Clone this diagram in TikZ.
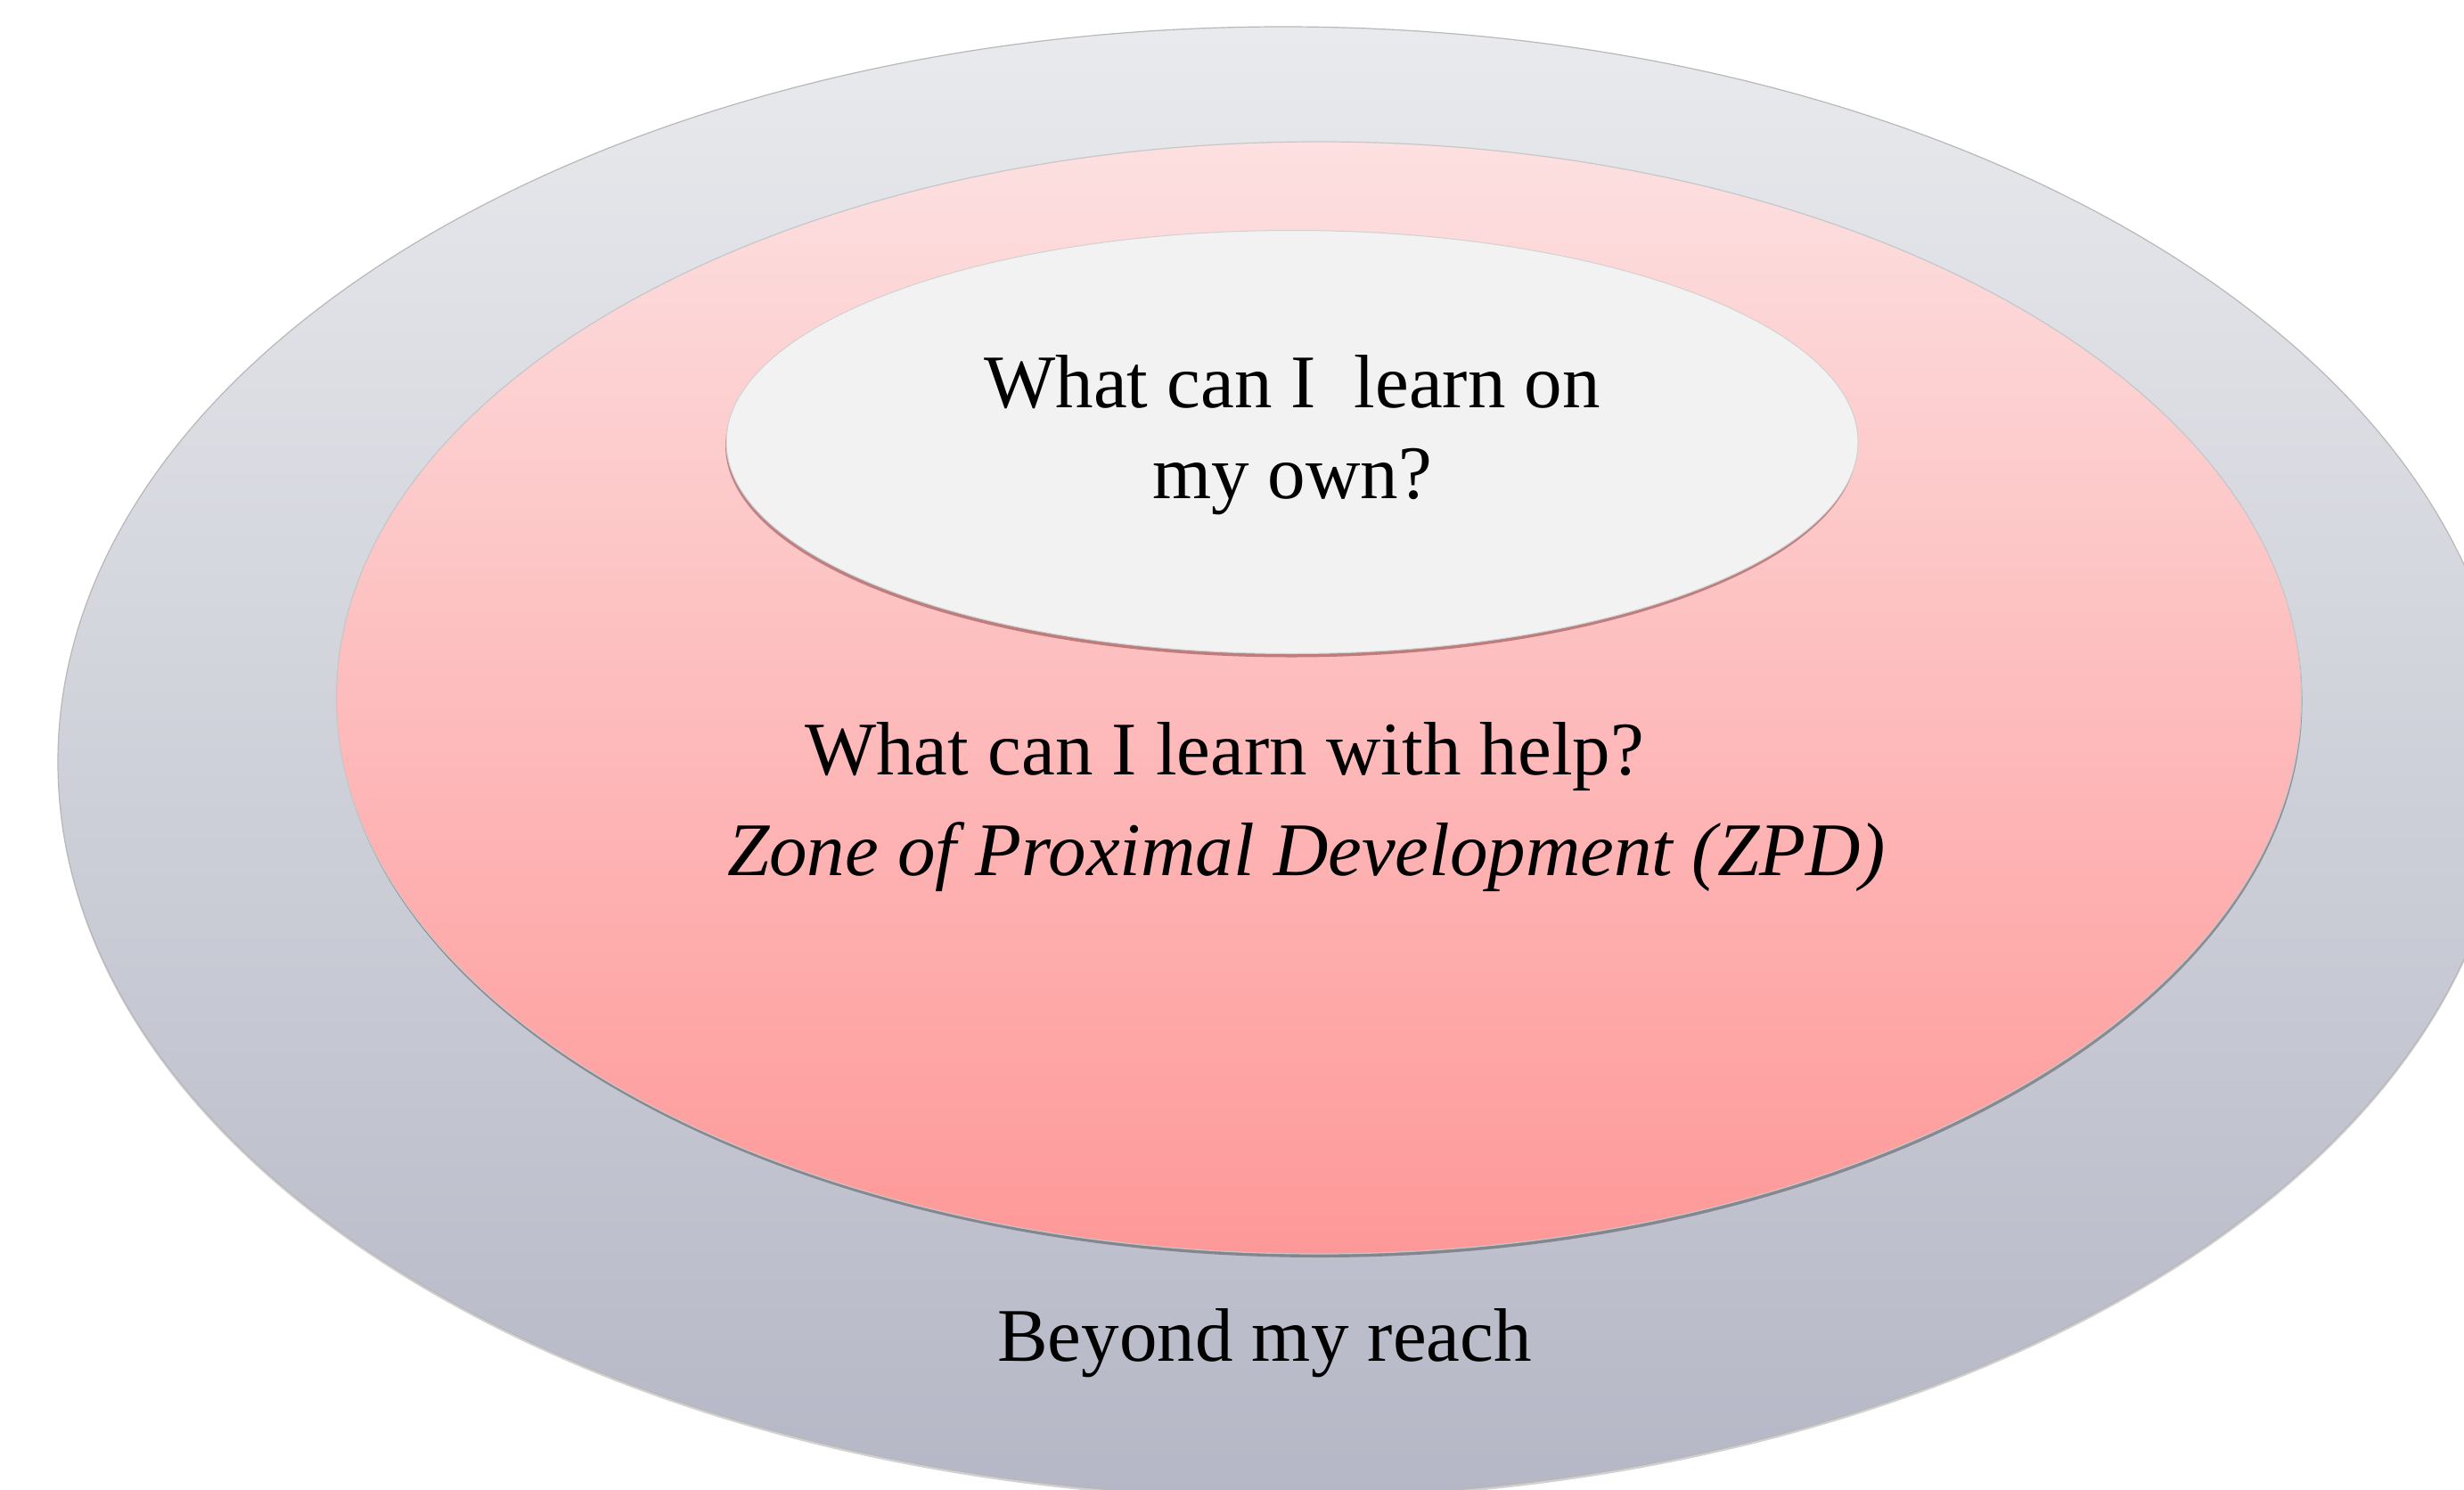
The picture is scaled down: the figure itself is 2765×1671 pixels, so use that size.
\documentclass[tikz,border=0pt]{standalone}
\usepackage{fontspec}
\setmainfont{Liberation Serif}
\usetikzlibrary{shapes.geometric,shadows}

% zone colours
\definecolor{reachTop}{HTML}{E9EAED}
\definecolor{reachMid}{HTML}{D3D5DC}
\definecolor{reachBot}{HTML}{B5B7C6}
\definecolor{zpdTop}{HTML}{FDE0E1}
\definecolor{zpdMid}{HTML}{FDC1C1}
\definecolor{zpdBot}{HTML}{FE9898}
\definecolor{ownFill}{HTML}{F2F2F2}

\begin{document}
\begin{tikzpicture}[x=1pt,y=-1pt,
  zone/.style={ellipse, inner sep=0pt, outer sep=0pt},
  softshadow/.style={drop shadow={shadow xshift=1pt, shadow yshift=-4pt, opacity=0.30, fill=black}},
  caption/.style={font=\fontsize{85}{102}\selectfont, inner sep=0pt, anchor=base, text=black}]

\useasboundingbox (0,0) rectangle (2765,1671);
\clip (0,0) rectangle (2765,1671);
\fill[white] (0,0) rectangle (2765,1671);

% outer zone: beyond reach
\node[zone, minimum width=2750pt, minimum height=1650pt,
      top color=reachTop, middle color=reachMid, bottom color=reachBot,
      draw=black!28, line width=1.2pt,
      drop shadow={shadow xshift=0pt, shadow yshift=-3pt, opacity=0.18, fill=black}]
      (reach) at (1440,855) {};

% middle zone: ZPD
\node[zone, minimum width=2205pt, minimum height=1248pt,
      top color=zpdTop, middle color=zpdMid, bottom color=zpdBot,
      draw=black!22, line width=1.2pt, softshadow]
      (zpd) at (1480,783) {};

% inner zone: learn on my own
\node[zone, minimum width=1270pt, minimum height=475pt,
      fill=ownFill, draw=black!18, line width=1pt,
      drop shadow={shadow xshift=-1pt, shadow yshift=-4pt, opacity=0.35, fill=black!70!red}]
      (own) at (1450,496) {};

% labels
\node[caption] (ownA) at (1450,457) {What can I\ \ learn on};
\node[caption] (ownB) at (1450,559) {my own?};
\node[caption] (help) at (1374,869) {What can I learn with help?};
\node[caption] (zpdname) at (1466,982) {\itshape Zone of Proximal Development (ZPD)};
\node[caption] (beyond) at (1419,1527) {Beyond my reach};

\end{tikzpicture}
\end{document}
